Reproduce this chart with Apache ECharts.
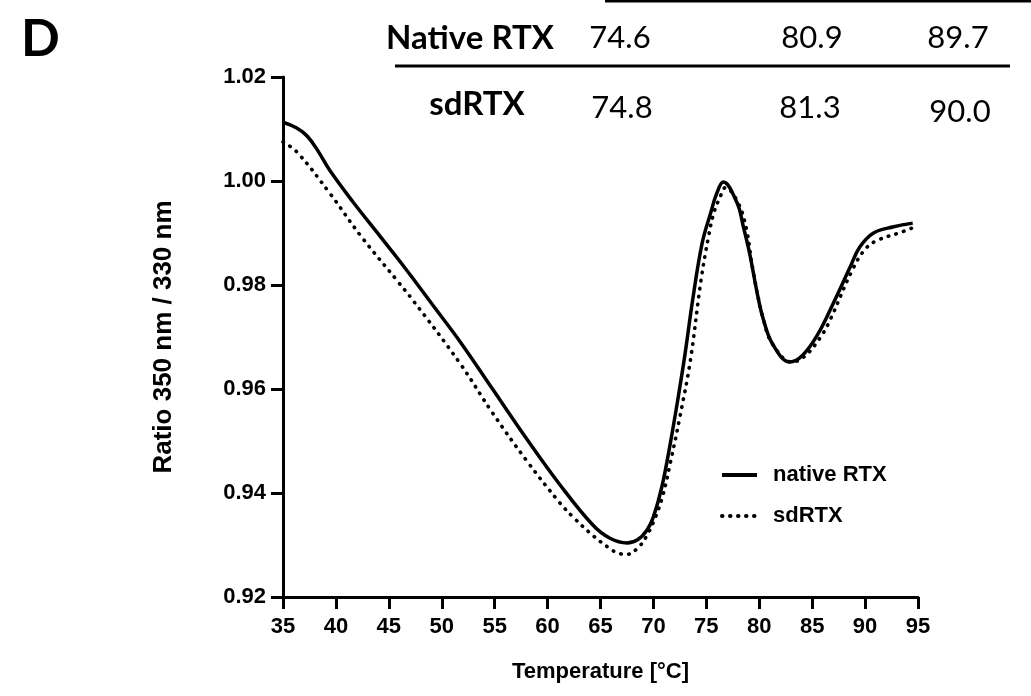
<!DOCTYPE html>
<html>
<head>
<meta charset="utf-8">
<script src="https://cdn.jsdelivr.net/npm/echarts@6/dist/echarts.min.js"></script>
<style>
  html, body { margin: 0; padding: 0; background: #fff; }
  #chart { width: 1031px; height: 696px; }
</style>
</head>
<body>
<div id="chart"></div>
<script>
// Melting curve ratio (350 nm / 330 nm) versus temperature
const nativeTemp = [35.0, 36.3, 37.3, 38.3, 39.4, 41.6, 44.2, 45.8, 47.3, 49.2, 51.7, 54.8, 58.1, 61.2, 64.3, 65.9, 67.5, 68.5, 69.4, 70.0, 70.8, 71.6, 72.3, 73.0, 73.7, 74.6, 75.4, 76.0, 76.6, 77.9, 78.5, 79.1, 79.8, 80.4, 81.3, 82.9, 84.1, 85.5, 87.0, 88.6, 89.5, 90.8, 92.7, 94.5];
const nativeRatio = [1.0113, 1.0102, 1.0086, 1.0058, 1.0021, 0.9960, 0.9893, 0.9852, 0.9812, 0.9760, 0.9692, 0.9600, 0.9502, 0.9415, 0.9338, 0.9313, 0.9304, 0.9310, 0.9329, 0.9354, 0.9412, 0.9496, 0.9579, 0.9669, 0.9770, 0.9880, 0.9938, 0.9977, 0.9998, 0.9958, 0.9912, 0.9860, 0.9785, 0.9733, 0.9685, 0.9652, 0.9665, 0.9704, 0.9765, 0.9835, 0.9873, 0.9900, 0.9912, 0.9919];

const sdTemp = [35.0, 36.3, 39.4, 42.4, 45.8, 47.3, 51.7, 54.8, 58.1, 61.2, 62.5, 64.3, 65.9, 66.7, 67.5, 68.6, 69.4, 70.2, 70.9, 71.6, 72.5, 73.5, 74.5, 75.2, 75.7, 76.3, 76.8, 78.0, 78.8, 79.4, 80.4, 81.3, 83.1, 84.3, 85.8, 86.7, 88.8, 90.1, 91.3, 93.2, 94.5];
const sdRatio = [1.0075, 1.0056, 0.9977, 0.9893, 0.9808, 0.9770, 0.9650, 0.9554, 0.9460, 0.9380, 0.9352, 0.9318, 0.9293, 0.9284, 0.9282, 0.9296, 0.9319, 0.9354, 0.9396, 0.9458, 0.9546, 0.9656, 0.9810, 0.9892, 0.9938, 0.9969, 0.9987, 0.9958, 0.9906, 0.9829, 0.9733, 0.9685, 0.9652, 0.9663, 0.9700, 0.9733, 0.9829, 0.9871, 0.9887, 0.9900, 0.9910];

// Transition temperatures shown in the table above the plot
const tableRows = ['Native RTX', 'sdRTX'];
const nativeTm = ['74.6', '80.9', '89.7'];
const sdTm = ['74.8', '81.3', '90.0'];

const seriesNames = ['native RTX', 'sdRTX'];

const pairs = (xs, ys) => xs.map((x, i) => [x, ys[i]]);

const chart = echarts.init(document.getElementById('chart'), null, { renderer: 'canvas' });

const axisFont = { fontFamily: 'Liberation Sans, Arial, sans-serif', fontWeight: 'bold', color: '#000' };
const tableFont = 'Lato, "Open Sans", sans-serif';

const cell = (x, y, text, bold, size) => ({
  type: 'text', x: x, y: y,
  style: { text: text, font: (bold ? 'bold ' : '') + size + 'px ' + tableFont, fill: '#000', align: 'center', verticalAlign: 'middle' }
});

chart.setOption({
  animation: false,
  backgroundColor: '#fff',
  grid: { left: 283, top: 77, width: 635, height: 520, containLabel: false },
  xAxis: {
    type: 'value', min: 35, max: 95, interval: 5,
    name: 'Temperature [°C]', nameLocation: 'middle', nameGap: 64,
    nameTextStyle: Object.assign({ fontSize: 22 }, axisFont),
    axisLine: { show: true, lineStyle: { color: '#000', width: 3 } },
    axisTick: { show: true, length: 12, lineStyle: { color: '#000', width: 3 } },
    axisLabel: Object.assign({ fontSize: 22, margin: 19 }, axisFont),
    splitLine: { show: false }
  },
  yAxis: {
    type: 'value', min: 0.92, max: 1.02, interval: 0.02,
    name: 'Ratio 350 nm / 330 nm', nameLocation: 'middle', nameGap: 106,
    nameTextStyle: Object.assign({ fontSize: 26 }, axisFont),
    axisLine: { show: true, lineStyle: { color: '#000', width: 3 } },
    axisTick: { show: true, length: 12, lineStyle: { color: '#000', width: 3 } },
    axisLabel: Object.assign({ fontSize: 22, margin: 17, formatter: v => v.toFixed(2) }, axisFont),
    splitLine: { show: false }
  },
  legend: {
    orient: 'vertical', left: 715, top: 459, itemWidth: 35, itemHeight: 14, itemGap: 19,
    data: seriesNames,
    itemStyle: { opacity: 0 },
    lineStyle: { width: 4 },
    textStyle: Object.assign({ fontSize: 22, padding: [0, 0, 0, 11] }, axisFont)
  },
  series: [
    {
      name: seriesNames[0], type: 'line', data: pairs(nativeTemp, nativeRatio),
      smooth: 0.4, showSymbol: false, symbol: 'none',
      lineStyle: { color: '#000', width: 3.5 }, itemStyle: { color: '#000' }
    },
    {
      name: seriesNames[1], type: 'line', data: pairs(sdTemp, sdRatio),
      smooth: 0.4, showSymbol: false, symbol: 'none',
      lineStyle: { color: '#000', width: 3.6, type: [0.5, 7.5], cap: 'round' }, itemStyle: { color: '#000' }
    }
  ],
  graphic: [
    { type: 'text', left: 21, top: 14, style: { text: 'D', font: 'bold 51px ' + tableFont, fill: '#000' } },
    { type: 'line', shape: { x1: 605, y1: 1, x2: 1031, y2: 1 }, style: { stroke: '#000', lineWidth: 3 } },
    { type: 'line', shape: { x1: 395, y1: 66, x2: 1010, y2: 66 }, style: { stroke: '#000', lineWidth: 3 } },
    cell(470, 38, tableRows[0], true, 33),
    cell(620, 38, nativeTm[0], false, 31),
    cell(812, 38, nativeTm[1], false, 31),
    cell(958, 38, nativeTm[2], false, 31),
    cell(477, 104, tableRows[1], true, 33),
    cell(622, 108, sdTm[0], false, 31),
    cell(810, 108, sdTm[1], false, 31),
    cell(960, 112, sdTm[2], false, 31)
  ]
});
</script>
</body>
</html>
